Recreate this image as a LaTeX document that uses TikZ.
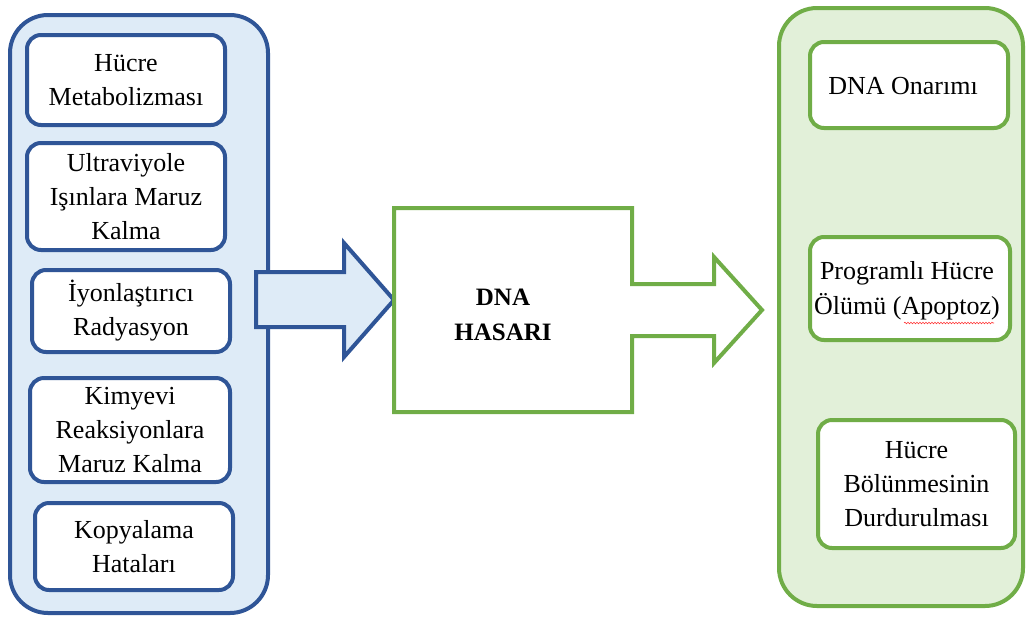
\documentclass[tikz,border=0pt]{standalone}
\usepackage{fontspec}
\setmainfont{Liberation Serif}
\usetikzlibrary{decorations.pathmorphing}
\definecolor{bluestroke}{RGB}{47,85,151}
\definecolor{bluefill}{RGB}{222,235,247}
\definecolor{greenstroke}{RGB}{112,173,71}
\definecolor{greenfill}{RGB}{226,240,217}
\begin{document}
\begin{tikzpicture}[x=1pt,y=-1pt,
  panel/.style={line width=4pt, rounded corners=38pt},
  item/.style={draw, line width=4pt, fill=white, rounded corners=14pt,
    align=center, inner sep=0pt, text=black,
    font=\fontsize{26}{34}\selectfont},
  blueitem/.style={item, draw=bluestroke},
  greenitem/.style={item, draw=greenstroke},
  blockarrow/.style={line width=4pt, line join=miter}
]
\useasboundingbox (0,0) rectangle (1027,619);

% left panel: sources of damage
\draw[panel, draw=bluestroke, fill=bluefill] (10,15) rectangle (268,613);
\node[blueitem, minimum width=198pt, minimum height=90pt]  (metab) at (126,80)    {Hücre\\Metabolizması};
\node[blueitem, minimum width=198pt, minimum height=107pt] (uv)    at (126,196.5) {Ultraviyole\\Işınlara Maruz\\Kalma};
\node[blueitem, minimum width=198pt, minimum height=82pt]  (iyon)  at (131,311)   {İyonlaştırıcı\\Radyasyon};
\node[blueitem, minimum width=200pt, minimum height=104pt] (kim)   at (130,430)   {Kimyevi\\Reaksiyonlara\\Maruz Kalma};
\node[blueitem, minimum width=198pt, minimum height=87pt]  (kopya) at (134,546.5) {Kopyalama\\Hataları};

% right panel: outcomes
\draw[panel, draw=greenstroke, fill=greenfill] (779,8) rectangle (1023,606);
\node[greenitem, minimum width=198pt, minimum height=86pt]  (onar) at (909,85) {};
\node[font=\fontsize{26}{34}\selectfont] (onartxt) at (903,86) {DNA Onarımı};
\node[greenitem, minimum width=200pt, minimum height=103pt] (apop) at (910,288.5) {};
\node[font=\fontsize{26}{35}\selectfont, align=center] (apoptxt) at (907,291) {Programlı Hücre\\Ölümü (Apoptoz)};
\node[greenitem, minimum width=197pt, minimum height=128pt] (bolun) at (916.5,484) {Hücre\\Bölünmesinin\\Durdurulması};
\draw[red!80, line width=0.6pt, decorate,
  decoration={snake, amplitude=0.8pt, segment length=3pt}]
  (904,323) -- (994,323);

% incoming arrow
\draw[blockarrow, draw=bluestroke, fill=bluefill]
  (256,272) -- (344,272) -- (344,243) -- (394,300) -- (344,357)
  -- (344,327) -- (256,327) -- cycle;

% central box merged with the outgoing arrow
\draw[blockarrow, draw=greenstroke, fill=white]
  (394,208) -- (632,208) -- (632,284) -- (714,284) -- (714,257)
  -- (762,310) -- (714,363) -- (714,336) -- (632,336) -- (632,412)
  -- (394,412) -- cycle;
\node[font=\fontsize{25}{35}\selectfont\bfseries, align=center] (hasar) at (503,315) {DNA\\HASARI};
\end{tikzpicture}
\end{document}
